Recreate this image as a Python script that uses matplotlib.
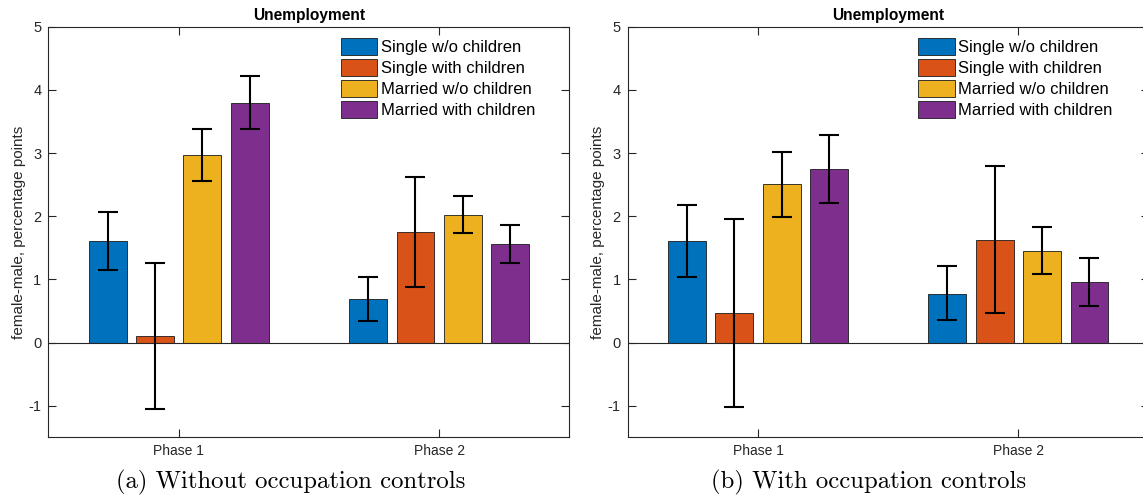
import matplotlib
matplotlib.use("Agg")
import matplotlib.pyplot as plt
import numpy as np

phases = ["Phase 1", "Phase 2"]
groups = ["Single w/o children", "Single with children", "Married w/o children", "Married with children"]
colors = ["#0072BD", "#D95319", "#EDB120", "#7E2F8E"]

# Panel (a): without occupation controls, rows = group, cols = phase
a_vals = [[1.61, 0.686], [0.10, 1.748], [2.967, 2.027], [3.80, 1.557]]
a_low = [[1.146, 0.338], [-1.056, 0.876], [2.56, 1.737], [3.38, 1.257]]
a_high = [[2.07, 1.035], [1.26, 2.624], [3.38, 2.318], [4.22, 1.853]]

# Panel (b): with occupation controls
b_vals = [[1.61, 0.776], [0.47, 1.631], [2.503, 1.457], [2.745, 0.961]]
b_low = [[1.035, 0.354], [-1.019, 0.465], [1.985, 1.088], [2.212, 0.586]]
b_high = [[2.175, 1.209], [1.959, 2.793], [3.01, 1.822], [3.284, 1.346]]

captions = ["(a) Without occupation controls", "(b) With occupation controls"]

W, H = 1143, 500
fig = plt.figure(figsize=(W / 100, H / 100), dpi=100)
fig.patch.set_facecolor("white")

axcol = "#262626"
sans = ["Liberation Sans", "DejaVu Sans"]

def draw(ax, vals, low, high, legend_x):
    x = np.arange(1, len(phases) + 1)
    n = len(groups)
    gw = min(0.8, n / (n + 1.5))
    step = gw / n
    bw = step * 0.8
    for i in range(n):
        off = (i - (n - 1) / 2) * step
        v = np.array(vals[i])
        lo = np.array(low[i])
        hi = np.array(high[i])
        ax.bar(x + off, v, width=bw, color=colors[i], edgecolor="#1a1a1a",
               linewidth=0.6, label=groups[i], zorder=2)
        ax.errorbar(x + off, v, yerr=[v - lo, hi - v], fmt="none", ecolor="black",
                    elinewidth=1.5, capsize=7, capthick=1.5, zorder=3)
    ax.axhline(0, color=axcol, linewidth=0.8, zorder=2.5)
    ax.set_xlim(0.5, 2.5)
    ax.set_ylim(-1.5, 5)
    ax.set_xticks(x)
    ax.set_xticklabels(phases, fontsize=10, family=sans, color=axcol)
    ax.set_yticks(np.arange(-1, 6))
    ax.set_yticklabels([str(t) for t in range(-1, 6)], fontsize=10.5, family=sans, color=axcol)
    ax.tick_params(direction="in", length=6, width=0.8, color=axcol,
                   top=True, right=True, pad=5)
    for s in ax.spines.values():
        s.set_color(axcol)
        s.set_linewidth(0.8)
    ax.set_title("Unemployment", fontsize=11.2, fontweight="bold", family=sans, pad=5, color="black")
    ax.set_ylabel("female-male, percentage points", fontsize=11, family=sans, color=axcol, labelpad=2)
    ax.legend(loc="upper left", bbox_to_anchor=(legend_x / W, 1 - 38 / H),
              bbox_transform=fig.transFigure, frameon=False,
              prop={"family": sans, "size": 12}, borderpad=0, borderaxespad=0,
              handlelength=2.2, handleheight=1.15, handletextpad=0.22,
              labelspacing=0.25)

top, bot = 26.7, 437.3
ax1 = fig.add_axes([48.4 / W, 1 - bot / H, 521 / W, (bot - top) / H])
ax2 = fig.add_axes([627.7 / W, 1 - bot / H, 521 / W, (bot - top) / H])
draw(ax1, a_vals, a_low, a_high, 340.7)
draw(ax2, b_vals, b_low, b_high, 918.0)

fig.text(291 / W, 1 - 482 / H, captions[0], ha="center", va="center",
         family=["cmr10", "DejaVu Serif"], fontsize=17.8)
fig.text(869 / W, 1 - 482 / H, captions[1], ha="center", va="center",
         family=["cmr10", "DejaVu Serif"], fontsize=17.8)

fig.savefig("out.png", dpi=100)
